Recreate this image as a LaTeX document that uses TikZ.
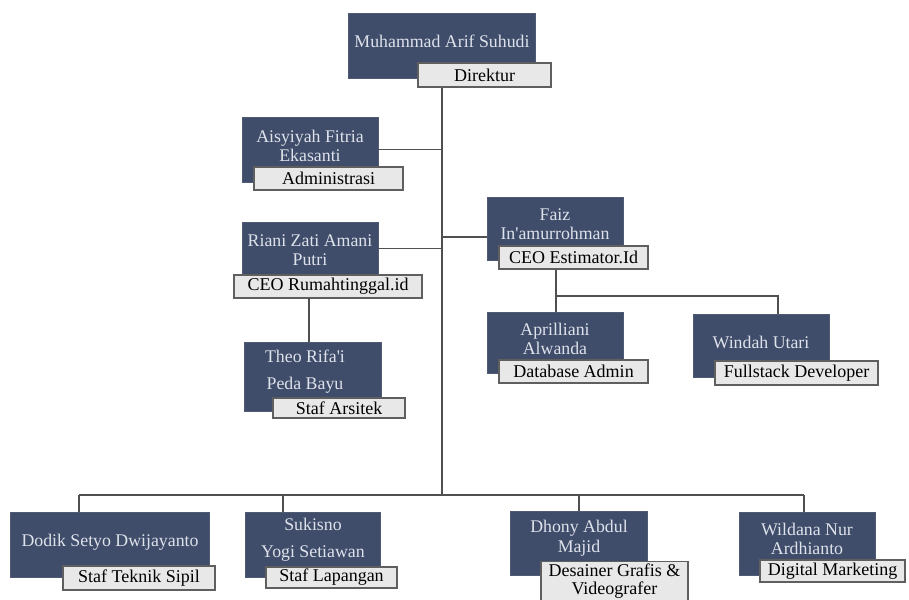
\documentclass[tikz,border=0pt]{standalone}
\usepackage{fontspec}
\setmainfont{Liberation Serif}
\definecolor{navy}{RGB}{63,76,106}
\definecolor{navyb}{RGB}{80,90,115}
\definecolor{lighttxt}{RGB}{222,226,234}
\definecolor{rolefill}{RGB}{232,232,232}
\definecolor{rolebd}{RGB}{95,95,95}
\definecolor{linec}{RGB}{80,80,80}
\newcommand\darkbox[5]{\node[dark, minimum width={(#4-#2)*1pt}, minimum height={(#5-#3)*1pt}] (#1) at ({(#2+#4)/2},{(#3+#5)/2}) {};}
\newcommand\rolebox[6]{\node[role, minimum width={(#4-#2)*1pt}, minimum height={(#5-#3)*1pt}] (#1) at ({(#2+#4)/2},{(#3+#5)/2}) {#6};}
\tikzset{
  dark/.style={draw=navyb, fill=navy, line width=0.8pt, inner sep=0pt},
  role/.style={draw=rolebd, fill=rolefill, line width=1.3pt, inner sep=0pt, text=black, align=center,
    font=\fontsize{18}{20}\selectfont},
  nm/.style={text=lighttxt, align=center, inner sep=0pt, font=\fontsize{17.8}{19.5}\selectfont},
  nmw/.style={nm, font=\fontsize{17.8}{27}\selectfont},
  conn/.style={draw=linec, line width=1.4pt}
}
\begin{document}
\begin{tikzpicture}[x=1pt,y=-1pt]
\clip (0,0) rectangle (909,599);
\fill[white] (0,0) rectangle (909,599);
% coordinates of the trunk
\coordinate (trunktop) at (442,87);
\coordinate (bus) at (442,495);
\coordinate (busL) at (79,495);
\coordinate (busR) at (804,495);
\coordinate (fj) at (556,296);
\coordinate (fjR) at (778,296);

% connectors (drawn first, behind boxes)
\draw[conn] (trunktop) -- (bus);
\draw[conn] (busL) -- (busR);

% Muhammad
\darkbox{m}{348}{13}{535}{78}
\node[nm] (mt) at (442,41) {Muhammad Arif Suhudi};
\rolebox{mr}{418}{63}{551}{87}{Direktur}

% Aisyiyah
\darkbox{a}{242}{117}{378}{182}
\node[nm] (at) at (310,146) {Aisyiyah Fitria\\Ekasanti};
\rolebox{ar}{254}{167}{403}{190}{Administrasi}

% Riani
\darkbox{r}{242}{222}{378}{275}
\node[nm] (rt) at (310,250) {Riani Zati Amani\\Putri};
\rolebox{rr}{234}{275}{422}{298}{CEO Rumahtinggal.id}

% Theo
\darkbox{t}{244}{342}{381}{411}
\node[nmw] (tt) at (305,372) {Theo Rifa\textquotesingle i\\Peda Bayu};
\rolebox{tr}{273}{398}{405}{418}{Staf Arsitek}

% Faiz
\darkbox{f}{487}{197}{623}{260}
\node[nm] (ft) at (555,224) {Faiz\\In\textquotesingle amurrohman};
\rolebox{fr}{499}{246}{648}{269}{CEO Estimator.Id}

% Aprilliani
\darkbox{ap}{487}{312}{623}{373}
\node[nm] (apt) at (555,339) {Aprilliani\\Alwanda};
\rolebox{apr}{499}{360}{648}{383}{Database Admin}

% Windah
\darkbox{w}{693}{314}{829}{377}
\node[nm] (wt) at (761,342) {Windah Utari};
\rolebox{wr}{715}{361}{878}{385}{Fullstack Developer}

% Dodik
\darkbox{d}{10}{512}{209}{577}
\node[nm] (dt) at (110,542) {Dodik Setyo Dwijayanto};
\rolebox{dr}{63}{566}{215}{590}{Staf Teknik Sipil}

% Sukisno
\darkbox{s}{245}{512}{380}{577}
\node[nmw] (st) at (313,540) {Sukisno\\Yogi Setiawan};
\rolebox{sr}{266}{567}{397}{588}{Staf Lapangan}

% Dhony
\darkbox{dh}{510}{511}{647}{575}
\node[nm] (dht) at (579,538) {Dhony Abdul\\Majid};
\node[role, minimum width=147pt, minimum height=44pt, anchor=north, font=\fontsize{18}{18}\selectfont] (dhr) at (614.5,561) {};
\node[text=black, align=center, inner sep=0pt, font=\fontsize{18}{18}\selectfont] (dhrt) at (614.5,581) {Desainer Grafis \&\\Videografer};

% Wildana
\darkbox{wl}{739}{512}{875}{575}
\node[nm] (wlt) at (807,539) {Wildana Nur\\Ardhianto};
\rolebox{wlr}{760}{560}{905}{582}{Digital Marketing}

% connectors to trunk
\draw[conn] (a.east) -- (a.east -| trunktop);
\draw[conn] (r.east) -- (r.east -| trunktop);
\draw[conn] (trunktop |- 0,237) -- (f.west |- 0,237);
\draw[conn] (309,298) -- (309,342);
% Faiz subtree
\draw[conn] (fr.south -| fj) -- (fj) -- (fjR) -- (fjR |- w.north);
\draw[conn] (fj) -- (fj |- ap.north);
% bottom drops
\draw[conn] (busL) -- (busL |- d.north);
\draw[conn] (283,495) -- (283,512);
\draw[conn] (579,495) -- (579,511);
\draw[conn] (busR) -- (busR |- wl.north);
\end{tikzpicture}
\end{document}
